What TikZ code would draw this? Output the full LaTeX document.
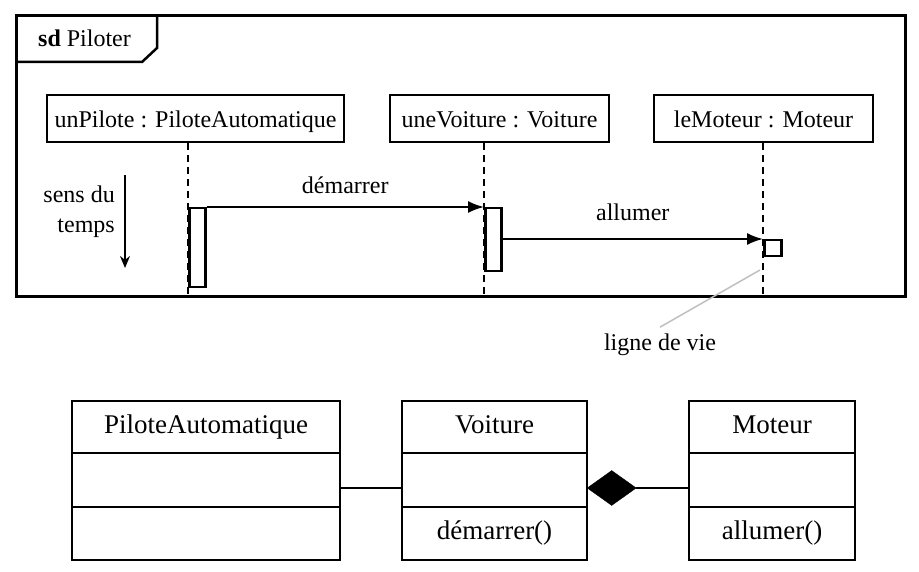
\documentclass[tikz,border=0pt]{standalone}
\usepackage{fontspec}
\setmainfont{Liberation Serif}
\usetikzlibrary{arrows.meta}
\usetikzlibrary{positioning}
\usetikzlibrary{shapes.geometric}

\begin{document}
\begin{tikzpicture}[x=1pt,y=-1pt,
        font=\fontsize{24}{30}\selectfont,
        objet/.style={draw,line width=2.5pt,minimum height=47pt,text height=20pt,text depth=1pt,inner sep=0pt},
        lifeline/.style={line width=1.8pt,dash pattern=on 7pt off 5pt},
        activ/.style={draw,fill=white,line width=2.5pt,inner sep=0pt,anchor=north west},
        msg/.style={line width=1.8pt,-{Latex[length=16pt,width=12pt]}},
        classe/.style={draw,line width=2.8pt,inner sep=0pt,outer sep=0pt,font=\fontsize{27}{30}\selectfont,text height=18pt,text depth=6pt}]
    \useasboundingbox (0,0) rectangle (919,572);
    % frame
    \draw[line width=3pt] (16,16) rectangle (905,297);
    \draw[line width=2.5pt] (16,62) -- (142,62) -- (157,48) -- (157,16);
    \node[anchor=base west,inner sep=0pt] (sd) at (38,47) {\textbf{sd} Piloter};
    % objects
    \node[objet,minimum width=297pt] (p1) at (195.5,118.5) {unPilote : PiloteAutomatique};
    \node[objet,minimum width=219pt] (p2) at (499.5,118.5) {uneVoiture : Voiture};
    \node[objet,minimum width=219pt] (p3) at (763.5,118.5) {leMoteur : Moteur};
    \foreach \p/\x in {p1/188,p2/484,p3/763}{\draw[lifeline] (\p.south -| \x,0) -- (\x,297);}
    % activations
    \node[activ,minimum width=16pt,minimum height=79pt] (act1) at (188,207) {};
    \node[activ,minimum width=16pt,minimum height=63pt] (act2) at (484,207) {};
    \node[activ,minimum width=17pt,minimum height=16pt] (act3) at (763,239) {};
    % messages
    \draw[msg] (act1.north east) -- node[above=12pt,inner sep=0pt] (m1) {démarrer} (act2.north west);
    \draw[msg] (act2.east |- act3.north west) -- node[above=17pt,inner sep=0pt] (m2) {allumer} (act3.north west);
    % time
    \node[align=right,anchor=north east,inner sep=0pt] (sens) at (115,186) {sens du\\temps};
    \coordinate (t0) at (125,175);
    \coordinate (t1) at (125,268);
    \draw[line width=1.8pt,-{Stealth[length=12pt,width=10pt]}] (t0) -- (t1);
    % ligne de vie
    \node[anchor=base,inner sep=0pt] (lv) at (660,350) {ligne de vie};
    \coordinate (lvp) at (760,270);
    \draw[gray!50,line width=1.5pt] ([yshift=6pt]lv.north) -- (lvp);
    % classes
    \node[classe,minimum width=268pt,minimum height=52pt,anchor=north west] (pa) at (72,401) {PiloteAutomatique};
    \node[classe,minimum width=268pt,minimum height=54pt,below=0pt of pa] (paAttr) {};
    \node[classe,minimum width=268pt,minimum height=53pt,below=0pt of paAttr] (paOp) {};
    \node[classe,minimum width=185pt,minimum height=52pt,anchor=north west] (vo) at (402,401) {Voiture};
    \node[classe,minimum width=185pt,minimum height=54pt,below=0pt of vo] (voAttr) {};
    \node[classe,minimum width=185pt,minimum height=53pt,below=0pt of voAttr] (voOp) {démarrer()};
    \node[classe,minimum width=166pt,minimum height=52pt,anchor=north west] (mo) at (689,401) {Moteur};
    \node[classe,minimum width=166pt,minimum height=54pt,below=0pt of mo] (moAttr) {};
    \node[classe,minimum width=166pt,minimum height=53pt,below=0pt of moAttr] (moOp) {allumer()};
    % associations
    \node[diamond,draw,fill,inner sep=0pt,minimum width=49pt,minimum height=35pt,anchor=west] (comp) at (voAttr.east |- 0,488) {};
    \draw[line width=2pt] (paAttr.east |- comp) -- (voAttr.west |- comp);
    \draw[line width=2pt] (comp.east) -- (moAttr.west |- comp);
\end{tikzpicture}
\end{document}
